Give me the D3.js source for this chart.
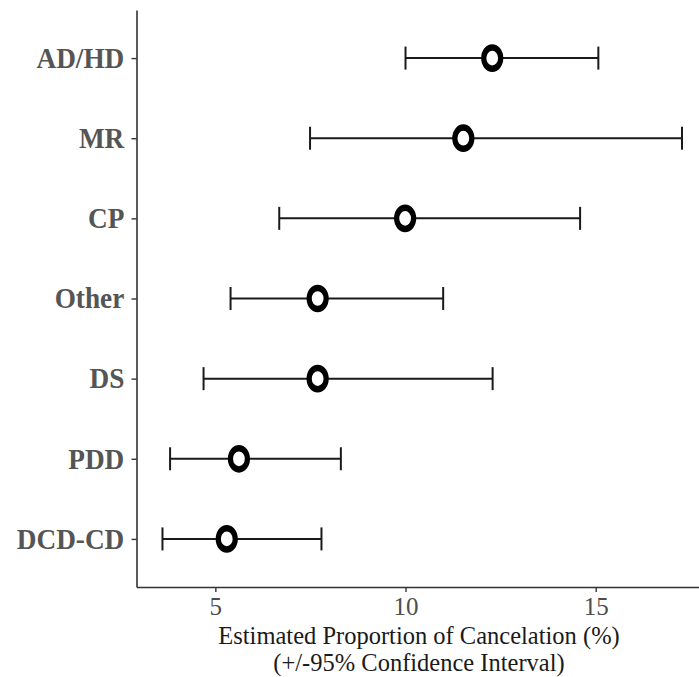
<!DOCTYPE html>
<html>
<head>
<meta charset="utf-8">
<script src="https://cdn.jsdelivr.net/npm/d3@7"></script>
<style>
  html, body { margin: 0; padding: 0; background: #fff; }
  svg { display: block; }
</style>
</head>
<body>
<svg id="chart" width="699" height="677"></svg>
<script>
// Data (top to bottom as displayed)
const categories = ["AD/HD", "MR", "CP", "Other", "DS", "PDD", "DCD-CD"];
const estimates  = [12.28, 11.52, 9.99, 7.69, 7.69, 5.62, 5.30];
const lowerCI    = [10.00, 7.49, 6.68, 5.40, 4.69, 3.81, 3.61];
const upperCI    = [15.07, 17.27, 14.59, 10.99, 12.29, 8.30, 7.79];
const xTicks     = [5, 10, 15];
const xTitle     = ["Estimated Proportion of Cancelation (%)", "(+/-95% Confidence Interval)"];

(function () {
const rows = categories.map((c, i) => ({ cat: c, est: estimates[i], lo: lowerCI[i], hi: upperCI[i] }));

const svg = d3.select("#chart");
const pLeft = 136.5, pRight = 708, pTop = 10, pBottom = 587;
const serif = "'Liberation Serif', 'Times New Roman', serif";

const lo = d3.min(lowerCI), hi = d3.max(upperCI);
const pad = (hi - lo) * 0.05;
const x = d3.scaleLinear().domain([lo - pad, hi + pad]).range([pLeft, pRight]);
const y = d3.scalePoint().domain(categories).range([pTop, pBottom]).padding(0.6);

// Error bars
const g = svg.append("g");
const capH = 11.5;
const barCol = "#1a1a1a";
g.selectAll("line.bar").data(rows).join("line")
  .attr("x1", d => x(d.lo)).attr("x2", d => x(d.hi))
  .attr("y1", d => y(d.cat)).attr("y2", d => y(d.cat))
  .attr("stroke", barCol).attr("stroke-width", 2);
g.selectAll("line.capl").data(rows).join("line")
  .attr("x1", d => x(d.lo)).attr("x2", d => x(d.lo))
  .attr("y1", d => y(d.cat) - capH).attr("y2", d => y(d.cat) + capH)
  .attr("stroke", barCol).attr("stroke-width", 2);
g.selectAll("line.caph").data(rows).join("line")
  .attr("x1", d => x(d.hi)).attr("x2", d => x(d.hi))
  .attr("y1", d => y(d.cat) - capH).attr("y2", d => y(d.cat) + capH)
  .attr("stroke", barCol).attr("stroke-width", 2);

// Points (slightly tall rings, as in the reference)
g.selectAll("circle").data(rows).join("circle")
  .attr("transform", d => `translate(${x(d.est)},${y(d.cat)}) scale(0.8,1)`)
  .attr("cx", 0).attr("cy", 0)
  .attr("r", 10.6)
  .attr("fill", "#fff").attr("stroke", "#000").attr("stroke-width", 6.5);

// Axes
const xAxis = svg.append("g").attr("transform", `translate(0,${pBottom})`)
  .call(d3.axisBottom(x).tickValues(xTicks).tickSize(5).tickSizeOuter(0).tickPadding(5));
xAxis.select(".domain").attr("stroke", "#333").attr("stroke-width", 1.6);
xAxis.selectAll(".tick line").attr("stroke", "#333").attr("stroke-width", 1.4);
xAxis.selectAll(".tick text")
  .attr("font-family", serif)
  .attr("font-size", 25).attr("fill", "#4d4d4d");

const yAxis = svg.append("g").attr("transform", `translate(${pLeft},0)`)
  .call(d3.axisLeft(y).tickSize(5).tickSizeOuter(0).tickPadding(8));
yAxis.select(".domain").attr("stroke", "#333").attr("stroke-width", 1.6);
yAxis.selectAll(".tick line").attr("stroke", "#333").attr("stroke-width", 1.4);
yAxis.selectAll(".tick text")
  .attr("font-family", serif)
  .attr("font-weight", "bold")
  .attr("font-size", 29).attr("fill", "#555")
  .attr("transform", "scale(0.94,1)");

// Axis title (two lines)
svg.append("text")
  .attr("x", 419).attr("y", 644)
  .attr("text-anchor", "middle")
  .attr("font-family", serif)
  .attr("font-size", 24.5).attr("fill", "#1a1a1a")
  .text(xTitle[0]);
svg.append("text")
  .attr("x", 419).attr("y", 671)
  .attr("text-anchor", "middle")
  .attr("font-family", serif)
  .attr("font-size", 24.5).attr("fill", "#1a1a1a")
  .text(xTitle[1]);
})();
</script>
</body>
</html>
